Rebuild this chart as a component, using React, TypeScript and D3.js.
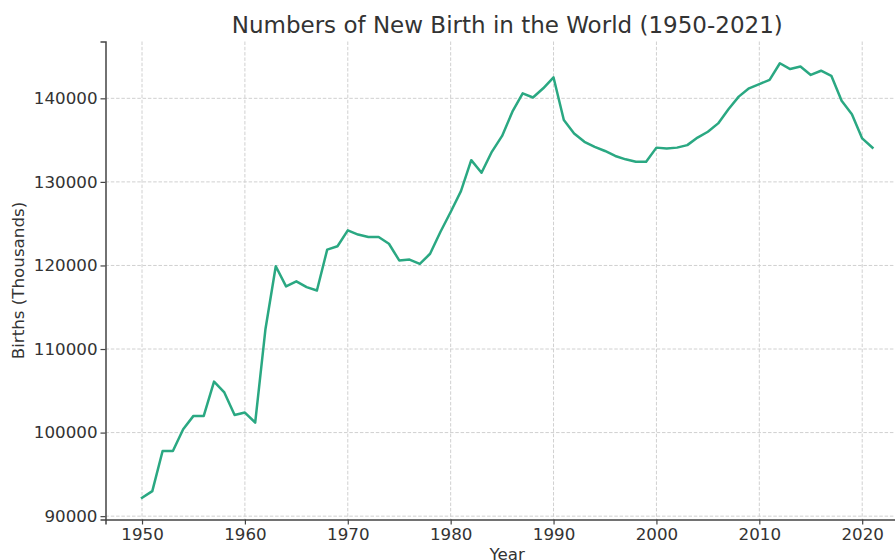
import React, { useEffect, useRef } from 'react';
import * as d3 from 'd3';

// years 1950..2021 and births (thousands)
const years: number[] = d3.range(1950, 2022);
const births: number[] = [
  92200, 93000, 97800, 97800, 100400, 102000, 102000, 106100, 104800, 102100,
  102400, 101200, 112400, 119900, 117500, 118100, 117400, 117000, 121900, 122300,
  124200, 123700, 123400, 123400, 122600, 120600, 120700, 120200, 121400, 124000,
  126400, 128900, 132600, 131100, 133600, 135500, 138400, 140600, 140100, 141200,
  142500, 137400, 135800, 134800, 134200, 133700, 133100, 132700, 132400, 132400,
  134100, 134000, 134100, 134400, 135300, 136000, 137000, 138700, 140200, 141200,
  141700, 142200, 144200, 143500, 143800, 142800, 143300, 142700, 139700, 138100,
  135200, 134100,
];
const xTicks: number[] = [1950, 1960, 1970, 1980, 1990, 2000, 2010, 2020];
const yTicks: number[] = [90000, 100000, 110000, 120000, 130000, 140000];

const App = () => {
  const chartRef = useRef<SVGSVGElement>(null);

  useEffect(() => {
    const width = 895;
    const height = 560;
    const left = 105.5;
    const right = 909;
    const top = 41.5;
    const bottom = 519.5;
    const font = '"DejaVu Sans", sans-serif';
    const textColor = '#333';

    const data = years.map((y, i) => ({ year: y, value: births[i] }));

    // matplotlib-like 5% margins
    const [x0, x1] = d3.extent(years) as [number, number];
    const [y0, y1] = d3.extent(births) as [number, number];
    const xPad = (x1 - x0) * 0.05;
    const yPad = (y1 - y0) * 0.05;

    const x = d3.scaleLinear().domain([x0 - xPad, x1 + xPad]).range([left, right]);
    const y = d3.scaleLinear().domain([y0 - yPad, y1 + yPad]).range([bottom, top]);

    const svg = d3.select(chartRef.current)
      .attr('width', width)
      .attr('height', height);
    svg.selectAll('*').remove();

    svg.append('rect').attr('width', width).attr('height', height).attr('fill', '#fff');

    // grid
    const grid = svg.append('g')
      .attr('stroke', '#d0d0d0')
      .attr('stroke-width', 1)
      .attr('stroke-dasharray', '3.5,1.8');
    grid.selectAll('line.v')
      .data(xTicks)
      .join('line')
        .attr('class', 'v')
        .attr('x1', d => x(d)).attr('x2', d => x(d))
        .attr('y1', top).attr('y2', bottom);
    grid.selectAll('line.h')
      .data(yTicks)
      .join('line')
        .attr('class', 'h')
        .attr('x1', left).attr('x2', right)
        .attr('y1', d => y(d)).attr('y2', d => y(d));

    // the line
    const line = d3.line<{ year: number; value: number }>()
      .x(d => x(d.year))
      .y(d => y(d.value));
    svg.append('path')
      .datum(data)
      .attr('d', line)
      .attr('fill', 'none')
      .attr('stroke', '#2aa882')
      .attr('stroke-width', 2.5)
      .attr('stroke-linejoin', 'round')
      .attr('stroke-linecap', 'square');

    // x axis
    const xAxis = svg.append('g')
      .attr('transform', `translate(0,${bottom})`)
      .call(d3.axisBottom(x).tickValues(xTicks).tickFormat(d3.format('d')).tickSize(5).tickPadding(4));
    xAxis.select('.domain').attr('stroke', '#444').attr('stroke-width', 1.5);
    xAxis.selectAll('.tick line').attr('stroke', '#444').attr('stroke-width', 1.2);
    xAxis.selectAll('text')
      .attr('fill', textColor)
      .style('font-family', font)
      .style('font-size', '16.7px');

    // y axis
    const yAxis = svg.append('g')
      .attr('transform', `translate(${left},0)`)
      .call(d3.axisLeft(y).tickValues(yTicks).tickFormat(d3.format('d')).tickSize(5).tickPadding(3));
    yAxis.select('.domain').attr('stroke', '#444').attr('stroke-width', 1.5);
    yAxis.selectAll('.tick line').attr('stroke', '#444').attr('stroke-width', 1.2);
    yAxis.selectAll('text')
      .attr('fill', textColor)
      .style('font-family', font)
      .style('font-size', '16.7px');

    // title and axis labels
    svg.append('text')
      .attr('x', (left + right) / 2)
      .attr('y', 32.5)
      .attr('text-anchor', 'middle')
      .attr('fill', textColor)
      .style('font-family', font)
      .style('font-size', '23px')
      .text('Numbers of New Birth in the World (1950-2021)');

    svg.append('text')
      .attr('x', (left + right) / 2)
      .attr('y', 560)
      .attr('text-anchor', 'middle')
      .attr('fill', textColor)
      .style('font-family', font)
      .style('font-size', '16.7px')
      .text('Year');

    svg.append('text')
      .attr('transform', `translate(24,${(top + bottom) / 2}) rotate(-90)`)
      .attr('text-anchor', 'middle')
      .attr('fill', textColor)
      .style('font-family', font)
      .style('font-size', '16.7px')
      .text('Births (Thousands)');
  }, []);

  return (
    <div style={{ position: 'absolute', left: 0, top: 0 }}>
      <svg ref={chartRef} style={{ display: 'block', overflow: 'hidden' }}></svg>
    </div>
  );
};

export default App;
